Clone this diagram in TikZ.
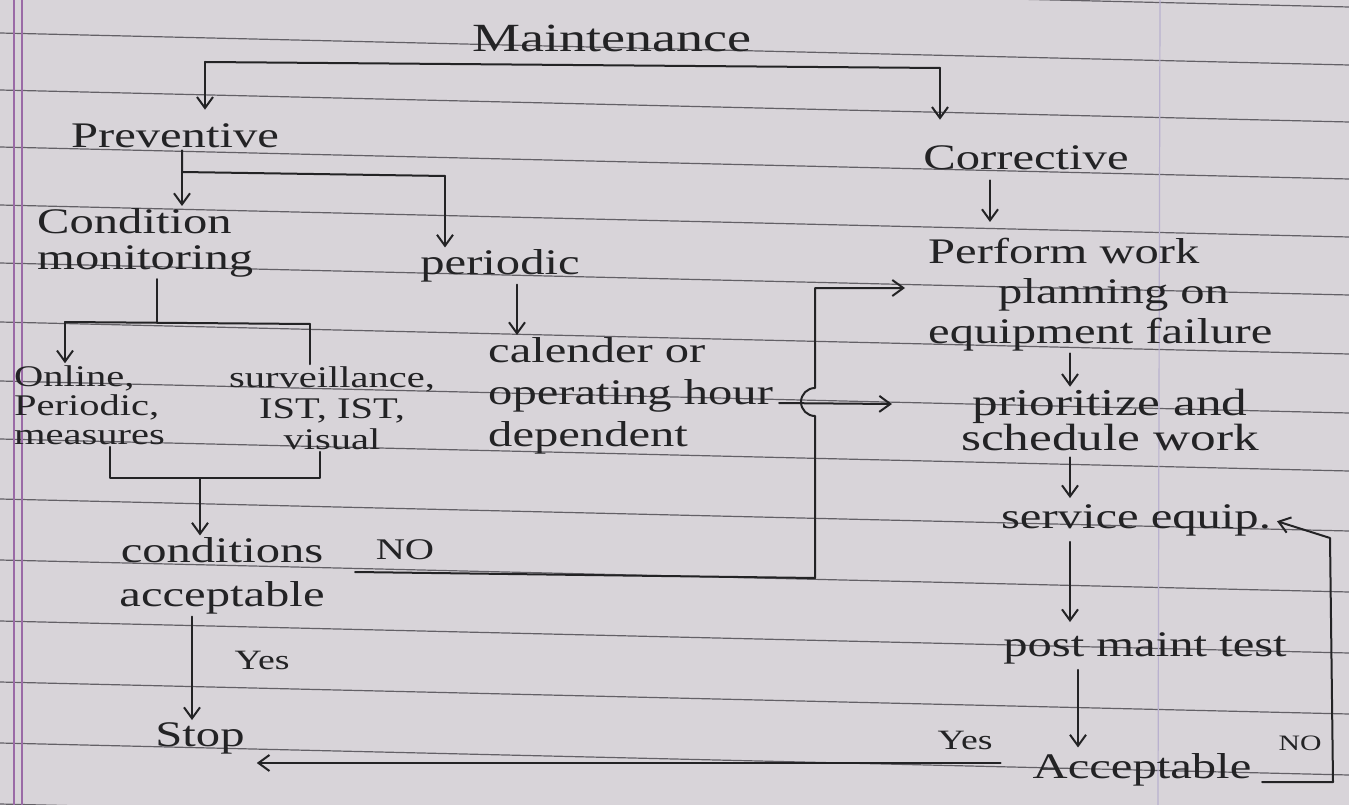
\documentclass[tikz,border=0pt]{standalone}
\usepackage{fontspec}
\setmainfont{Liberation Serif}[FakeStretch=1.35]
\usetikzlibrary{arrows.meta}
\definecolor{paper}{HTML}{D8D4D9}
\definecolor{ink}{HTML}{232325}
\definecolor{ruling}{HTML}{636066}
\definecolor{marginc}{HTML}{9A6AA6}
\definecolor{faintc}{HTML}{B9B1CF}
\begin{document}
\begin{tikzpicture}[x=1pt,y=-1pt,
  txt/.style={text=ink, inner sep=2pt, font=\fontsize{36}{38}\selectfont},
  lbl/.style={text=ink, inner sep=1pt, font=\fontsize{28}{30}\selectfont},
  lnk/.style={draw=ink, line width=2pt, line cap=round, line join=round},
  arr/.style={lnk, -{Straight Barb[length=11pt,width=16pt,line width=2pt]}}]
\useasboundingbox (0,0) rectangle (1349,805);
\fill[paper] (0,0) rectangle (1349,805);
\foreach \yy in {-25,33,90,147,205,263,322,381,439,499,560,621,682,743,804}
  \draw[ruling, line width=1.2pt] (0,\yy) -- (1349,\yy+32);
\draw[marginc, line width=1.2pt] (14,0) -- (14,805);
\draw[marginc, line width=1.2pt] (22,0) -- (22,805);
\draw[faintc, line width=1.2pt] (1160,0) -- (1158,805);

% nodes
\node[txt, font=\fontsize{40}{42}\selectfont] (maint) at (612,38) {Maintenance};
\node[txt] (prev) at (175,136) {Preventive};
\node[txt] (corr) at (1026,158) {Corrective};
\node[txt, align=left, anchor=north west, font=\fontsize{36}{36}\selectfont] (cond) at (35,206) {Condition\\monitoring};
\node[txt] (peri) at (500,266) {periodic};
\node[txt, align=left, anchor=west, font=\fontsize{30}{29}\selectfont] (online) at (12,405) {Online,\\Periodic,\\measures};
\node[txt, align=center, font=\fontsize{30}{31}\selectfont] (surv) at (332,408) {surveillance,\\IST, IST,\\visual};
\node[txt, align=left, anchor=north west, font=\fontsize{36}{42}\selectfont] (cal) at (486,335) {calender or\\operating hour\\dependent};
\node[txt, align=left, anchor=north west, font=\fontsize{36}{40}\selectfont] (perf) at (926,236) {Perform work\\\hspace*{70pt}planning on\\equipment failure};
\node[txt, align=center, font=\fontsize{38}{34}\selectfont] (prio) at (1110,420) {prioritize and\\schedule work};
\node[txt] (serv) at (1136,520) {service equip.};
\node[txt] (post) at (1145,648) {post maint test};
\node[txt] (acc) at (1142,770) {Acceptable};
\node[txt] (stop) at (200,738) {Stop};
\node[txt, align=center, font=\fontsize{36}{44}\selectfont] (cacc) at (222,576) {conditions\\acceptable};

\node[lbl, font=\fontsize{30}{30}\selectfont] (no1) at (405,550) {NO};
\node[lbl] (yes1) at (262,660) {Yes};
\node[lbl] (yes2) at (965,740) {Yes};
\node[lbl, font=\fontsize{22}{22}\selectfont] (no2) at (1300,743) {NO};

% Maintenance bracket
\coordinate (mL) at (205,62);
\coordinate (mR) at (940,68);
\draw[lnk] (mL) -- (mR);
\draw[arr, shorten >=12pt] (mL) -- (prev.north -| mL);
\draw[arr, shorten >=24pt] (mR) -- (corr.north -| mR);

% Preventive bracket
\coordinate (pv) at (182,172);
\coordinate (pvE) at (445,176);
\draw[lnk] (prev.south -| pv) -- (pv) -- (pvE);
\draw[arr] (pv) -- (cond.north -| pv);
\draw[arr] (pvE) -- (peri.north -| pvE);

% Condition monitoring branches
\coordinate (cm) at (157,322);
\coordinate (cmL) at (65,322);
\coordinate (cmR) at (310,324);
\draw[lnk] (cond.south -| cm) -- (cm);
\draw[lnk] (cmL) -- (cmR);
\draw[arr] (cmL) -- (online.north -| cmL);
\draw[lnk] (cmR) -- (surv.north -| cmR);

% bracket under online / surveillance
\coordinate (bL) at (110,478);
\coordinate (bR) at (320,478);
\coordinate (bM) at (200,478);
\draw[lnk] (online.south -| bL) -- (bL) -- (bR) -- (surv.south -| bR);
\draw[arr] (bM) -- (cacc.north -| bM);

% periodic -> calendar
\coordinate (px) at (517,0);
\draw[arr] (peri.south -| px) -- (cal.north -| px);

% conditions acceptable -> stop
\coordinate (cy) at (192,0);
\draw[arr] (cacc.south -| cy) -- (stop.north -| cy);

% NO path to Perform work planning
\coordinate (n1) at (355,572);
\coordinate (n2) at (815,578);
\coordinate (pfT) at (905,288);
\draw[arr] (n1) -- (n2) -- (815,416) arc[start angle=270, end angle=90, radius=14pt] -- (815,288) -- (pfT);

% calendar -> prioritize
\coordinate (hy) at (0,403);
\coordinate (hT) at (892,404);
\draw[arr, shorten <=4pt] (cal.east |- hy) -- (hT);

% corrective chain
\coordinate (ax) at (990,0);
\coordinate (bx) at (1070,0);
\coordinate (dx) at (1078,0);
\draw[arr, shorten <=8pt, shorten >=14pt] (corr.south -| ax) -- (perf.north -| ax);
\draw[arr] (perf.south -| bx) -- (prio.north -| bx);
\draw[arr, shorten <=4pt, shorten >=4pt] (prio.south -| bx) -- (serv.north -| bx);
\draw[arr, shorten <=4pt, shorten >=8pt] (serv.south -| bx) -- (post.north -| bx);
\draw[arr, shorten <=4pt, shorten >=4pt] (post.south -| dx) -- (acc.north -| dx);

% Acceptable NO loop back to service equip.
\coordinate (r1) at (1262,782);
\coordinate (r2) at (1333,782);
\coordinate (r3) at (1330,538);
\draw[arr, shorten >=4pt] (r1) -- (r2) -- (r3) -- (serv.east);

% Acceptable Yes -> Stop
\coordinate (yl) at (0,763);
\draw[arr, shorten <=30pt, shorten >=10pt] (acc.west |- yl) -- (stop.east |- yl);
\end{tikzpicture}
\end{document}
